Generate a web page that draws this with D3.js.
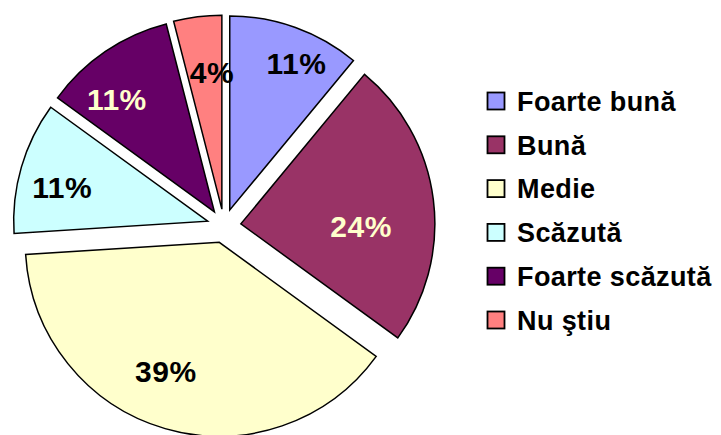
<!DOCTYPE html>
<html>
<head>
<meta charset="utf-8">
<script src="https://cdn.jsdelivr.net/npm/d3@7.9.0/dist/d3.min.js"></script>
<style>
  body { margin: 0; background: #fff; }
  svg { display: block; font-family: "Liberation Sans", Arial, sans-serif; font-weight: bold; }
</style>
</head>
<body>
<div id="chart"></div>
<script>
const categories = ["Foarte bună", "Bună", "Medie", "Scăzută", "Foarte scăzută", "Nu ştiu"];
const values = [11, 24, 39, 11, 11, 4];
const labels = ["11%", "24%", "39%", "11%", "11%", "4%"];
const colors = ["#9999FF", "#993366", "#FFFFCC", "#CCFFFF", "#660066", "#FF8080"];
const labelColors = ["#000", "#FFFFCC", "#000", "#000", "#FFFFCC", "#000"];

// label placement (Excel "best fit"): radius as share of pie radius, angle nudge in degrees
const labelRadius = [0.83, 0.62, 0.72, 0.77, 0.77, 0.71];
const labelNudge = [4.7, 8.2, 6.3, -3.2, -6.6, 3.1];

const width = 721;
const height = 435;
const cx = 224, cy = 226;
const radius = 194;
const explode = 17;

const svg = d3.select("#chart").append("svg")
  .attr("width", width)
  .attr("height", height);

const pie = d3.pie().sort(null).value((d) => d);
const arcs = pie(values);
const arc = d3.arc().innerRadius(0).outerRadius(radius);

const g = svg.append("g").attr("transform", `translate(${cx},${cy})`);

function polar(a, dist) {
  return [Math.sin(a) * dist, -Math.cos(a) * dist];
}
const mid = (d) => (d.startAngle + d.endAngle) / 2;

const slices = g.selectAll("g.slice")
  .data(arcs)
  .join("g")
  .attr("class", "slice")
  .attr("transform", (d) => `translate(${polar(mid(d), explode)})`);

slices.append("path")
  .attr("d", arc)
  .attr("fill", (d, i) => colors[i])
  .attr("stroke", "#000")
  .attr("stroke-width", 1.5)
  .attr("stroke-linejoin", "miter");

slices.append("text")
  .attr("transform", (d, i) =>
    `translate(${polar(mid(d) + labelNudge[i] * Math.PI / 180, radius * labelRadius[i])})`)
  .attr("text-anchor", "middle")
  .attr("dy", "0.36em")
  .attr("font-size", 30)
  .attr("letter-spacing", 0.5)
  .attr("fill", (d, i) => labelColors[i])
  .text((d, i) => labels[i]);

const legendY = d3.scalePoint()
  .domain(categories)
  .range([101, 320]);

const legend = svg.append("g")
  .selectAll("g")
  .data(categories)
  .join("g")
  .attr("transform", (d) => `translate(487,${legendY(d)})`);

legend.append("rect")
  .attr("x", 0.5)
  .attr("y", -8.5)
  .attr("width", 17)
  .attr("height", 17)
  .attr("fill", (d, i) => colors[i])
  .attr("stroke", "#000")
  .attr("stroke-width", 1.8);

legend.append("text")
  .attr("x", 30)
  .attr("dy", "0.36em")
  .attr("font-size", 27)
  .attr("letter-spacing", 0.4)
  .attr("fill", "#000")
  .text((d) => d);
</script>
</body>
</html>
